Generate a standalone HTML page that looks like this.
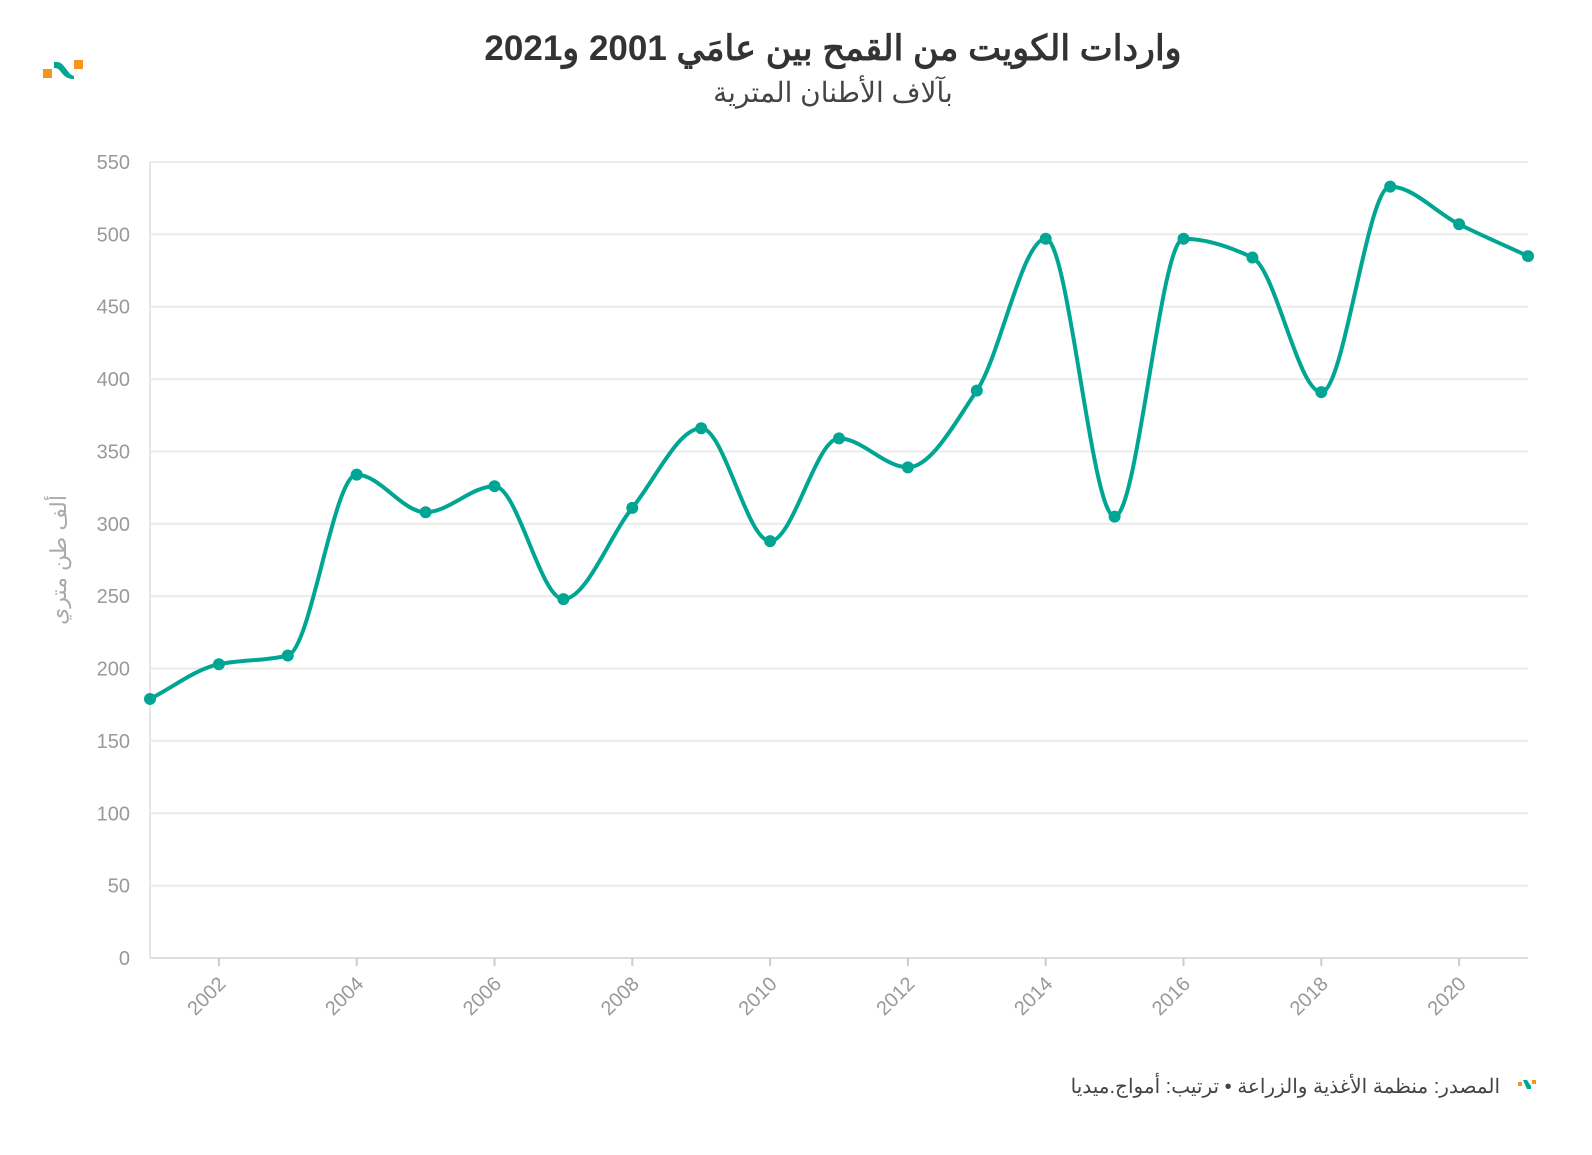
<!DOCTYPE html>
<html><head><meta charset="utf-8">
<style>
html,body{margin:0;padding:0;background:#fff;}
body{width:1592px;height:1150px;overflow:hidden;font-family:"Liberation Sans","Noto Sans CJK SC",sans-serif;}
</style></head>
<body>
<svg id="s" width="1592" height="1150" xmlns="http://www.w3.org/2000/svg" font-family="Liberation Sans, Noto Sans CJK SC, sans-serif">
<g transform="translate(43,59)">
<rect x="0" y="10" width="9" height="9" fill="#f7941d"/>
<rect x="31" y="1" width="9" height="9" fill="#f7941d"/>
<path d="M11,3 C18,2 20,6 24,11 C27,15 28,16 31,17 L31,20 C24,20 21,17 18,13 C16,10 14,9 11,9 Z" fill="#00a693"/>
</g>
<text x="833" y="60" text-anchor="middle" font-size="35" font-weight="bold" fill="#333" direction="rtl">واردات الكويت من القمح بين عامَي 2001 و2021</text>
<text x="833" y="102" text-anchor="middle" font-size="28" fill="#444" direction="rtl">بآلاف الأطنان المترية</text>
<g id="grid"></g>
<text transform="translate(66,560) rotate(-90)" text-anchor="middle" font-size="22" fill="#aaa" direction="rtl">ألف طن متري</text>
<path id="line" fill="none" stroke="#00a693" stroke-width="4"/>
<g id="pts" fill="#00a693"></g>
<text x="1500" y="1093" text-anchor="start" font-size="20" fill="#444" direction="rtl">المصدر: منظمة الأغذية والزراعة • ترتيب: أمواج.ميديا</text>
<g transform="translate(1518,1080)">
<rect x="0" y="2" width="4" height="4" fill="#f7941d"/>
<rect x="14" y="0" width="4" height="4" fill="#f7941d"/>
<path d="M5,0 L9,0 L13,6 L13,9 L9,9 Z" fill="#00a693"/>
</g>
</svg>
<script>
var d=[179,203,209,334,308,326,248,311,366,288,359,339,392,497,305,497,484,391,533,507,485];
var X=function(i){return 150+i*68.9}, Y=function(v){return 958-v*796/550};
var g=document.getElementById('grid'),h='';
for(var v=0;v<=550;v+=50){var y=Y(v);h+='<line x1="150" x2="1528" y1="'+y+'" y2="'+y+'" stroke="'+(v==0?'#ddd':'#ebebeb')+'" stroke-width="2"/>';
h+='<text x="130" y="'+(y+7)+'" text-anchor="end" font-size="20" fill="#999">'+v+'</text>';}
h+='<line x1="150" x2="150" y1="162" y2="958" stroke="#e5e5e5" stroke-width="2"/>';
for(var yr=2002;yr<=2020;yr+=2){var x=X(yr-2001);h+='<line x1="'+x+'" x2="'+x+'" y1="958" y2="966" stroke="#ccc" stroke-width="2"/>';
h+='<text transform="translate('+(x+8)+',985) rotate(-45)" text-anchor="end" font-size="20" fill="#999">'+yr+'</text>';}
g.innerHTML=h;
var n=d.length,xs=[],ys=[];for(var i=0;i<n;i++){xs.push(X(i));ys.push(Y(d[i]));}
var s=[],m=[];for(i=0;i<n-1;i++)s.push((ys[i+1]-ys[i])/(xs[i+1]-xs[i]));
m[0]=s[0];m[n-1]=s[n-2];
for(i=1;i<n-1;i++){var a=s[i-1],b=s[i];if(a*b<=0)m[i]=0;else m[i]=2*a*b/(a+b);}
var p='M'+xs[0]+','+ys[0];
for(i=0;i<n-1;i++){var dx=(xs[i+1]-xs[i])/3;p+=' C'+(xs[i]+dx)+','+(ys[i]+m[i]*dx)+' '+(xs[i+1]-dx)+','+(ys[i+1]-m[i+1]*dx)+' '+xs[i+1]+','+ys[i+1];}
document.getElementById('line').setAttribute('d',p);
var pp='';for(i=0;i<n;i++)pp+='<circle cx="'+xs[i]+'" cy="'+ys[i]+'" r="6"/>';
document.getElementById('pts').innerHTML=pp;
</script>
</body></html>
